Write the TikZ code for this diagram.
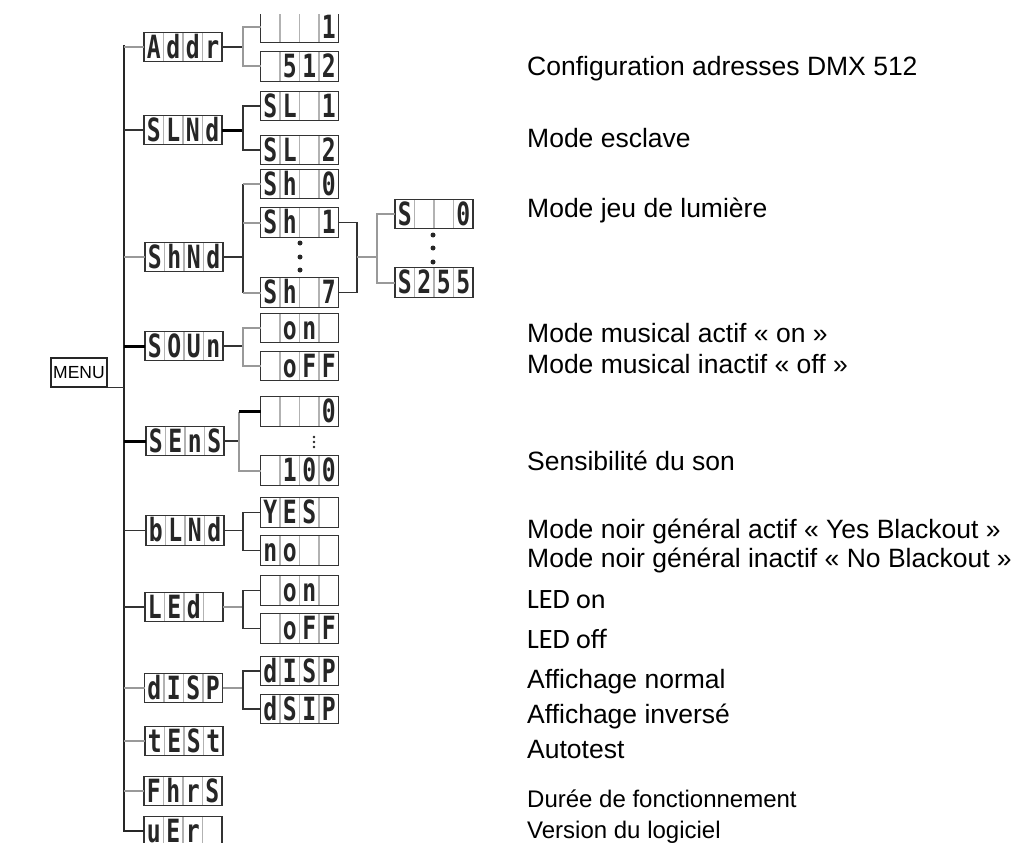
\documentclass[tikz,border=0pt]{standalone}
\usepackage{fontspec}
\usepackage{graphicx}
\setmainfont{Liberation Sans}
\newfontfamily\segfont{DejaVu Sans Mono}
\newfontfamily\calfont{Carlito}
\usetikzlibrary{calc}
\tikzset{
 dbox/.style={minimum width=78pt, minimum height=29.5pt, inner sep=0pt, outer sep=0pt},
 boxline/.style={draw=black!80, line width=1.4pt},
 cellsep/.style={draw=black!30, line width=1.2pt},
 segchar/.style={inner sep=0pt, anchor=base, font=\segfont\bfseries\fontsize{32}{32}\selectfont, text=black!85},
 conn/.style={draw=black!80, line width=1.5pt},
 connG/.style={draw=black!40, line width=2pt},
 connK/.style={draw=black, line width=3pt},
 trunkline/.style={draw=black!85, line width=1.8pt},
 menubox/.style={draw=black!85, line width=1.4pt, minimum width=56pt, minimum height=29pt, inner sep=0pt, font=\fontsize{17.5}{19}\selectfont},
 lbl/.style={anchor=base west, inner sep=0pt, font=\fontsize{26.5}{30}\selectfont},
 lblc/.style={anchor=base west, inner sep=0pt, font=\calfont\fontsize{28}{30}\selectfont},
 lbls/.style={anchor=base west, inner sep=0pt, font=\fontsize{24}{28}\selectfont},
 bigdot/.style={circle, fill=black!85, inner sep=0pt, minimum size=5pt},
 smalldot/.style={circle, fill=black!85, inner sep=0pt, minimum size=2.6pt}
}
\newcommand\segbox[7]{%
 \node[dbox] (#1) at (#2,#3) {};
 \foreach \k in {1,2,3}{\draw[cellsep] ($(#1.north west)!\k/4!(#1.north east)$) -- ($(#1.south west)!\k/4!(#1.south east)$);}
 \draw[boxline] (#1.north west) rectangle (#1.south east);
 \node[segchar] (#1-a) at ($(#1.south west)!0.125!(#1.south east)+(0,-3.5)$) {\scalebox{0.72}[1]{#4}};
 \node[segchar] (#1-b) at ($(#1.south west)!0.375!(#1.south east)+(0,-3.5)$) {\scalebox{0.72}[1]{#5}};
 \node[segchar] (#1-c) at ($(#1.south west)!0.625!(#1.south east)+(0,-3.5)$) {\scalebox{0.72}[1]{#6}};
 \node[segchar] (#1-d) at ($(#1.south west)!0.875!(#1.south east)+(0,-3.5)$) {\scalebox{0.72}[1]{#7}};
}
\begin{document}
\begin{tikzpicture}[x=1pt,y=-1pt]
\useasboundingbox (0,0) rectangle (1015,843);

% menu and trunk
\node[menubox] (menu) at (79,372.5) {MENU};
\coordinate (ttop) at (124,45);
\coordinate (tbot) at (124,831);

% level 1 boxes
\segbox{Addr}{183}{47}{A}{d}{d}{r}
\segbox{SLNd}{183}{130}{S}{L}{N}{d}
\segbox{ShNd}{184}{257}{S}{h}{N}{d}
\segbox{SOUn}{184}{346}{S}{O}{U}{n}
\segbox{SEnS}{185}{441}{S}{E}{n}{S}
\segbox{bLNd}{185}{530.5}{b}{L}{N}{d}
\segbox{LEd}{184}{607}{L}{E}{d}{}
\segbox{dISP}{183.5}{688}{d}{I}{S}{P}
\segbox{tESt}{184}{741}{t}{E}{S}{t}
\segbox{FhrS}{183}{791}{F}{h}{r}{S}
\segbox{uEr}{183}{831}{u}{E}{r}{}

% level 2 boxes
\begin{scope}
\clip (0,15) rectangle (1015,843);
\segbox{A1}{299.5}{27.5}{}{}{}{1}
\end{scope}
\segbox{A2}{299.5}{66.5}{}{5}{1}{2}
\segbox{SL1}{299.5}{106}{S}{L}{}{1}
\segbox{SL2}{299.5}{150}{S}{L}{}{2}
\segbox{Sh0}{299.5}{184}{S}{h}{}{0}
\segbox{Sh1}{299.5}{222.5}{S}{h}{}{1}
\segbox{Sh7}{299.5}{292.5}{S}{h}{}{7}
\segbox{Son}{299.5}{328}{}{o}{n}{}
\segbox{Soff}{299.5}{366}{}{o}{F}{F}
\segbox{Sn0}{299.5}{411.5}{}{}{}{0}
\segbox{Sn100}{299.5}{470.5}{}{1}{0}{0}
\segbox{Byes}{299.5}{512.5}{Y}{E}{S}{}
\segbox{Bno}{299.5}{550.5}{n}{o}{}{}
\segbox{Lon}{299.5}{590.5}{}{o}{n}{}
\segbox{Loff}{299.5}{628.5}{}{o}{F}{F}
\segbox{D1}{299.5}{671}{d}{I}{S}{P}
\segbox{D2}{299.5}{709}{d}{S}{I}{P}

% level 3 boxes
\segbox{S0}{434}{214}{S}{}{}{0}
\segbox{S255}{434}{282.5}{S}{2}{5}{5}

% dots
\node[bigdot] (dA) at (300,243) {};
\node[bigdot] (dB) at (300,257) {};
\node[bigdot] (dC) at (300,270) {};
\node[bigdot] (dD) at (433,235) {};
\node[bigdot] (dE) at (433,248) {};
\node[bigdot] (dF) at (433,262) {};
\node[smalldot] (dG) at (314,437) {};
\node[smalldot] (dH) at (314,442) {};
\node[smalldot] (dI) at (314,447) {};

% trunk
\draw[trunkline] (ttop) -- (tbot) -- (uEr.west);
\draw[conn] (menu.south east) -- (menu.south east -| ttop);

% branches from trunk
\draw[connG] (Addr.west -| ttop) -- (Addr.west);
\draw[conn] (SLNd.west -| ttop) -- (SLNd.west);
\draw[connG] (ShNd.west -| ttop) -- (ShNd.west);
\draw[connK] (SOUn.west -| ttop) -- (SOUn.west);
\draw[connK] (SEnS.west -| ttop) -- (SEnS.west);
\draw[conn] (bLNd.west -| ttop) -- (bLNd.west);
\draw[conn] (LEd.west -| ttop) -- (LEd.west);
\draw[connG] (dISP.west -| ttop) -- (dISP.west);
\draw[connG] (tESt.west -| ttop) -- (tESt.west);
\draw[connG] (FhrS.west -| ttop) -- (FhrS.west);

% forks level 1 -> 2
\coordinate (fx) at (243,0);
\draw[conn] (Addr.east) -- (Addr.east -| fx);
\draw[connG] (A1.west) -| (fx |- A1.west) -- (fx |- A2.west) -- (A2.west);

\draw[connK] (SLNd.east) -- (SLNd.east -| fx);
\draw[conn] (SL1.west) -| (fx |- SL1.west) -- (fx |- SL2.west) -- (SL2.west);

\draw[conn] (ShNd.east) -- (ShNd.east -| fx);
\draw[conn] (fx |- Sh0.west) -- (fx |- Sh7.west);
\draw[connG] (fx |- Sh0.west) -- (Sh0.west);
\draw[connG] (fx |- Sh1.west) -- (Sh1.west);
\draw[connG] (fx |- Sh7.west) -- (Sh7.west);

\draw[conn] (SOUn.east) -- (SOUn.east -| fx);
\draw[connG] (Son.west) -| (fx |- Son.west) -- (fx |- Soff.west) -- (Soff.west);

\coordinate (fxs) at (239,0);
\draw[conn] (SEnS.east) -- (SEnS.east -| fxs);
\draw[connG] (fxs |- Sn0.west) -- (fxs |- Sn100.west) -- (Sn100.west);
\draw[connK] (fxs |- Sn0.west) -- (Sn0.west);

\draw[conn] (bLNd.east) -- (bLNd.east -| fx);
\draw[conn] (Byes.west) -| (fx |- Byes.west) -- (fx |- Bno.west) -- (Bno.west);

\draw[connG] (LEd.east) -- (LEd.east -| fx);
\draw[conn] (Lon.west) -| (fx |- Lon.west) -- (fx |- Loff.west) -- (Loff.west);

\draw[connG] (dISP.east) -- (dISP.east -| fx);
\draw[conn] (D1.west) -| (fx |- D1.west) -- (fx |- D2.west) -- (D2.west);

% level 2 -> 3
\coordinate (bx) at (357,0);
\coordinate (gx) at (377,0);
\coordinate (mid) at (357,257);
\draw[conn] (Sh1.east) -- (bx |- Sh1.east) -- (bx |- Sh7.east) -- (Sh7.east);
\draw[connG] (mid) -- (gx |- mid);
\draw[connG] (S0.west) -| (gx |- S0.west) -- (gx |- S255.west) -- (S255.west);

% descriptions
\node[lbl] (t1) at (527,76) {Configuration adresses DMX 512};
\node[lbl] (t2) at (527,147) {Mode esclave};
\node[lbl] (t3) at (527,217) {Mode jeu de lumière};
\node[lbl] (t4) at (527,342) {Mode musical actif « on »};
\node[lbl] (t5) at (527,373) {Mode musical inactif « off »};
\node[lbl] (t6) at (527,470) {Sensibilité du son};
\node[lbl] (t7) at (527,538) {Mode noir général actif « Yes Blackout »};
\node[lbl] (t8) at (527,567) {Mode noir général inactif « No Blackout »};
\node[lblc] (t9) at (527,608) {LED on};
\node[lblc] (t10) at (527,648) {LED off};
\node[lbl] (t11) at (527,688) {Affichage normal};
\node[lbl] (t12) at (527,723) {Affichage inversé};
\node[lbl] (t13) at (527,758) {Autotest};
\node[lbls] (t14) at (527,807) {Durée de fonctionnement};
\node[lbls] (t15) at (527,838) {Version du logiciel};
\end{tikzpicture}
\end{document}
